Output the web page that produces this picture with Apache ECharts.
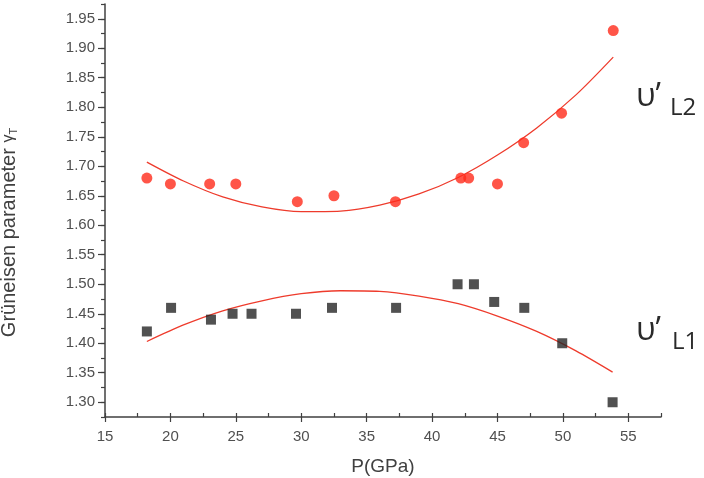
<!DOCTYPE html>
<html>
<head>
<meta charset="utf-8">
<script src="https://cdn.jsdelivr.net/npm/echarts@6/dist/echarts.min.js"></script>
<style>
  html, body { margin: 0; padding: 0; background: #fff; }
  #chart { width: 704px; height: 478px; }
</style>
</head>
<body>
<div id="chart"></div>
<script>
// measured points (P in GPa, Grüneisen parameter)
const redX = [18.2, 20.0, 23.0, 25.0, 29.7, 32.5, 37.2, 42.2, 42.8, 45.0, 47.0, 49.9, 53.85];
const redY = [1.68, 1.67, 1.67, 1.67, 1.64, 1.65, 1.64, 1.68, 1.68, 1.67, 1.74, 1.79, 1.93];
const blackX = [18.2, 20.05, 23.1, 24.75, 26.2, 29.6, 32.35, 37.25, 41.95, 43.2, 44.75, 47.05, 49.95, 53.8];
const blackY = [1.42, 1.46, 1.44, 1.45, 1.45, 1.45, 1.46, 1.46, 1.50, 1.50, 1.47, 1.46, 1.40, 1.30];

// fit curves
const upperFitX = [18.2, 21, 24, 27, 30, 33, 36, 39, 42, 45, 48, 51, 53.85];
const upperFitY = [1.707, 1.675, 1.648, 1.631, 1.623, 1.624, 1.634, 1.653, 1.681, 1.719, 1.765, 1.821, 1.885];
const lowerFitX = [18.2, 21, 24, 27, 30, 33, 36, 39, 42, 45, 48, 51, 53.8];
const lowerFitY = [1.403, 1.431, 1.455, 1.472, 1.484, 1.489, 1.488, 1.480, 1.467, 1.446, 1.420, 1.387, 1.351];

// ticks
const xTicks = [15, 20, 25, 30, 35, 40, 45, 50, 55];
const yTicks = [1.30, 1.35, 1.40, 1.45, 1.50, 1.55, 1.60, 1.65, 1.70, 1.75, 1.80, 1.85, 1.90, 1.95];

const zip = (xs, ys) => xs.map((x, i) => [x, ys[i]]);

const axisColor = '#404040';
const labelColor = '#505050';
const font = '"Liberation Sans", Arial, sans-serif';
const noteFont = '"Open Sans", "Noto Sans", sans-serif';

const chart = echarts.init(document.getElementById('chart'));

const option = {
  backgroundColor: '#fff',
  animation: false,
  grid: { left: 105, right: 43, top: 4, bottom: 61, outerBoundsMode: 'none' },
  xAxis: [{
    type: 'value',
    position: 'bottom',
    min: 15,
    max: 57.5,
    name: 'P(GPa)',
    nameLocation: 'middle',
    nameGap: 40,
    nameTextStyle: { fontSize: 19, color: '#404040', fontFamily: font },
    axisLine: { show: true, onZero: false, lineStyle: { color: axisColor, width: 1.5 } },
    axisTick: { show: true, length: 5, customValues: xTicks, lineStyle: { color: axisColor, width: 1.2 } },
    axisLabel: { customValues: xTicks, margin: 12, fontSize: 15, color: labelColor, fontFamily: font },
    splitLine: { show: false }
  }, {
    type: 'value',
    position: 'bottom',
    offset: 0,
    min: 15,
    max: 57.5,
    interval: 2.5,
    axisLine: { show: false, onZero: false },
    axisTick: { show: true, inside: true, length: 4, lineStyle: { color: axisColor, width: 1.2 } },
    axisLabel: { show: false },
    splitLine: { show: false }
  }],
  yAxis: [{
    type: 'value',
    position: 'left',
    min: 1.275,
    max: 1.975,
    name: 'Grüneisen parameter {g|γ}{t|T}',
    nameLocation: 'middle',
    nameGap: 86,
    nameTextStyle: {
      fontSize: 20, color: '#404040', fontFamily: font,
      padding: [0, 44, 0, 0],
      rich: {
        g: { fontSize: 16, color: '#404040', fontFamily: font },
        t: { fontSize: 11, color: '#404040', fontFamily: font, padding: [9, 0, 0, 0] }
      }
    },
    axisLine: { show: true, onZero: false, lineStyle: { color: axisColor, width: 1.5 } },
    axisTick: { show: true, length: 7, customValues: yTicks, lineStyle: { color: axisColor, width: 1.2 } },
    axisLabel: {
      customValues: yTicks, margin: 10, fontSize: 15, color: labelColor, fontFamily: font,
      formatter: v => v.toFixed(2)
    },
    splitLine: { show: false }
  }, {
    type: 'value',
    position: 'left',
    offset: 0,
    min: 1.275,
    max: 1.975,
    interval: 0.025,
    axisLine: { show: false, onZero: false },
    axisTick: { show: true, length: 4, lineStyle: { color: axisColor, width: 1.2 } },
    axisLabel: { show: false },
    splitLine: { show: false }
  }],
  series: [
    {
      type: 'line',
      data: zip(upperFitX, upperFitY),
      smooth: 0.3,
      showSymbol: false,
      lineStyle: { color: '#ee3b2c', width: 1.3 },
      z: 2
    },
    {
      type: 'line',
      data: zip(lowerFitX, lowerFitY),
      smooth: 0.3,
      showSymbol: false,
      lineStyle: { color: '#ee3b2c', width: 1.3 },
      z: 2
    },
    {
      type: 'scatter',
      data: zip(redX, redY),
      symbol: 'circle',
      symbolSize: 11,
      itemStyle: { color: '#ff2a1a' },
      z: 3
    },
    {
      type: 'scatter',
      data: zip(blackX, blackY),
      symbol: 'rect',
      symbolSize: 10,
      itemStyle: { color: '#262626' },
      z: 3
    }
  ],
  graphic: [
    { type: 'text', left: 636, top: 81, style: { text: 'υ’', fontSize: 32, fontFamily: noteFont, fill: '#2a2a2a' } },
    { type: 'text', left: 670, top: 96, style: { text: 'L2', fontSize: 24, fontFamily: noteFont, fill: '#2a2a2a' } },
    { type: 'text', left: 636, top: 315, style: { text: 'υ’', fontSize: 32, fontFamily: noteFont, fill: '#2a2a2a' } },
    { type: 'text', left: 672, top: 330, style: { text: 'L1', fontSize: 24, fontFamily: noteFont, fill: '#2a2a2a' } }
  ]
};

chart.setOption(option);
</script>
</body>
</html>
